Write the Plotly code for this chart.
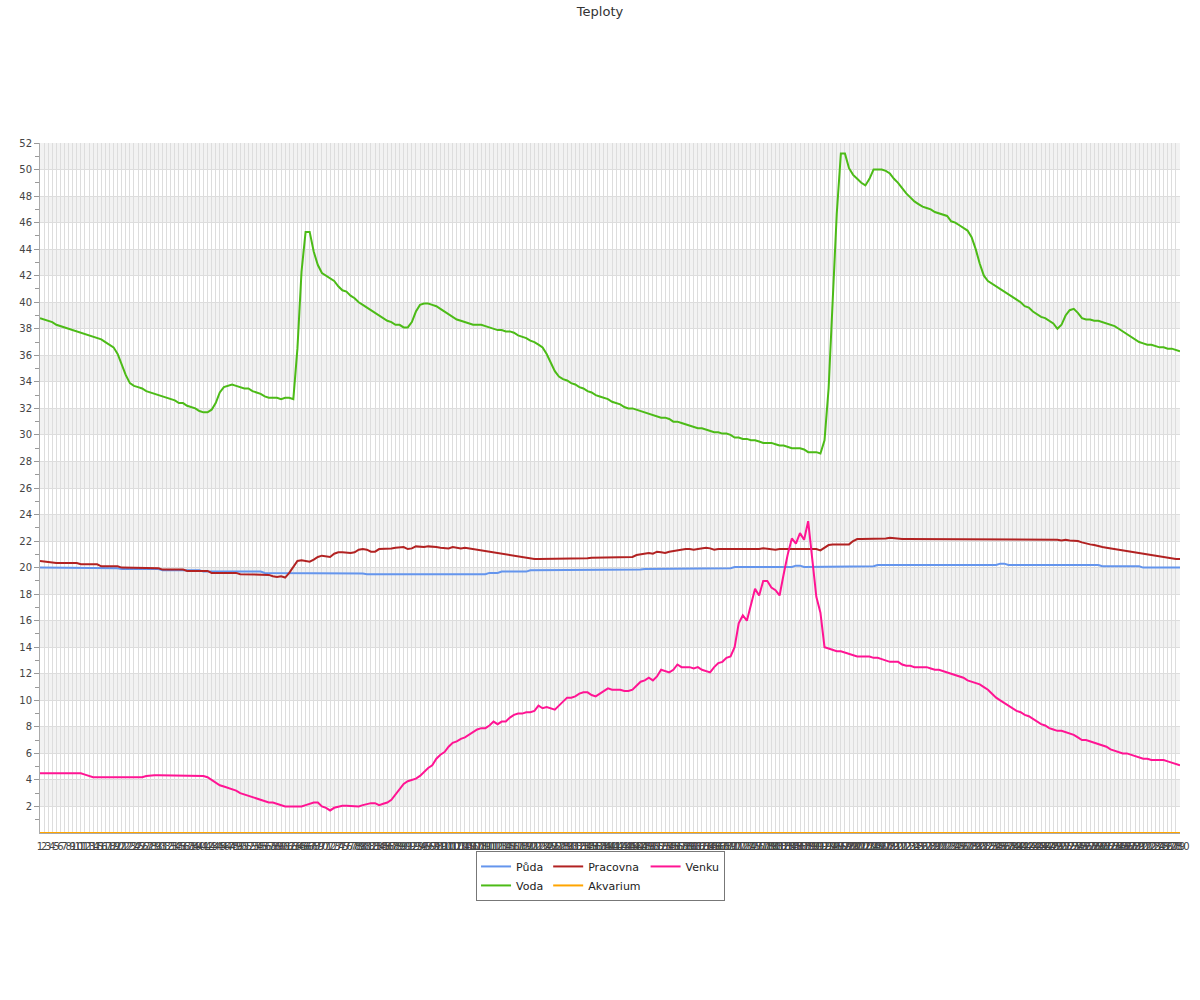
import plotly.graph_objects as go

categories = [str(i) for i in range(1, 281)]

puda = [
    20.0, 20.0, 20.0, 20.0, 20.0, 19.95, 19.95, 19.95, 19.95, 19.95,
    19.95, 19.95, 19.95, 19.95, 19.95, 19.95, 19.95, 19.95, 19.95, 19.95,
    19.9, 19.9, 19.9, 19.9, 19.9, 19.9, 19.9, 19.9, 19.9, 19.9,
    19.8, 19.8, 19.8, 19.8, 19.8, 19.8, 19.8, 19.8, 19.8, 19.8,
    19.7, 19.7, 19.7, 19.7, 19.7, 19.7, 19.7, 19.7, 19.7, 19.7,
    19.7, 19.7, 19.7, 19.7, 19.7, 19.6, 19.6, 19.6, 19.6, 19.6,
    19.6, 19.6, 19.6, 19.6, 19.6, 19.6, 19.6, 19.6, 19.6, 19.6,
    19.55, 19.55, 19.55, 19.55, 19.55, 19.55, 19.55, 19.55, 19.55, 19.55,
    19.5, 19.5, 19.5, 19.5, 19.5, 19.5, 19.5, 19.5, 19.5, 19.5,
    19.5, 19.5, 19.5, 19.5, 19.5, 19.5, 19.5, 19.5, 19.5, 19.5,
    19.5, 19.5, 19.5, 19.5, 19.5, 19.5, 19.5, 19.5, 19.5, 19.5,
    19.6, 19.6, 19.6, 19.7, 19.7, 19.7, 19.7, 19.7, 19.7, 19.7,
    19.8, 19.8, 19.8, 19.8, 19.8, 19.8, 19.8, 19.8, 19.8, 19.8,
    19.8, 19.8, 19.8, 19.8, 19.8, 19.85, 19.85, 19.85, 19.85, 19.85,
    19.85, 19.85, 19.85, 19.85, 19.85, 19.85, 19.85, 19.85, 19.9, 19.9,
    19.9, 19.9, 19.9, 19.9, 19.9, 19.9, 19.9, 19.9, 19.9, 19.9,
    19.95, 19.95, 19.95, 19.95, 19.95, 19.95, 19.95, 19.95, 19.95, 19.95,
    20.05, 20.05, 20.05, 20.05, 20.05, 20.05, 20.05, 20.05, 20.05, 20.05,
    20.05, 20.05, 20.05, 20.05, 20.05, 20.15, 20.15, 20.05, 20.05, 20.05,
    20.05, 20.05, 20.05, 20.05, 20.05, 20.1, 20.1, 20.1, 20.1, 20.1,
    20.1, 20.1, 20.1, 20.1, 20.1, 20.2, 20.2, 20.2, 20.2, 20.2,
    20.2, 20.2, 20.2, 20.2, 20.2, 20.15, 20.15, 20.15, 20.15, 20.15,
    20.15, 20.15, 20.15, 20.15, 20.15, 20.2, 20.2, 20.2, 20.2, 20.2,
    20.2, 20.2, 20.2, 20.2, 20.2, 20.3, 20.3, 20.2, 20.2, 20.2,
    20.2, 20.2, 20.2, 20.2, 20.2, 20.2, 20.2, 20.2, 20.2, 20.2,
    20.2, 20.2, 20.2, 20.2, 20.2, 20.2, 20.2, 20.2, 20.2, 20.2,
    20.1, 20.1, 20.1, 20.1, 20.1, 20.1, 20.1, 20.1, 20.1, 20.1,
    20.0, 20.0, 20.0, 20.0, 20.0, 20.0, 20.0, 20.0, 20.0, 20.0,
]

voda = [
    38.8, 38.7, 38.6, 38.5, 38.3, 38.2, 38.1, 38.0, 37.9, 37.8,
    37.7, 37.6, 37.5, 37.4, 37.3, 37.2, 37.0, 36.8, 36.6, 36.1,
    35.3, 34.5, 33.9, 33.7, 33.6, 33.5, 33.3, 33.2, 33.1, 33.0,
    32.9, 32.8, 32.7, 32.6, 32.4, 32.4, 32.2, 32.1, 32.0, 31.8,
    31.7, 31.7, 31.9, 32.4, 33.2, 33.6, 33.7, 33.8, 33.7, 33.6,
    33.5, 33.5, 33.3, 33.2, 33.1, 32.9, 32.8, 32.8, 32.8, 32.7,
    32.8, 32.8, 32.7, 36.5, 42.3, 45.3, 45.3, 43.8, 42.8, 42.2,
    42.0, 41.8, 41.6, 41.2, 40.9, 40.8, 40.5, 40.3, 40.0, 39.8,
    39.6, 39.4, 39.2, 39.0, 38.8, 38.6, 38.5, 38.3, 38.3, 38.1,
    38.1, 38.5, 39.3, 39.8, 39.9, 39.9, 39.8, 39.7, 39.5, 39.3,
    39.1, 38.9, 38.7, 38.6, 38.5, 38.4, 38.3, 38.3, 38.3, 38.2,
    38.1, 38.0, 37.9, 37.9, 37.8, 37.8, 37.7, 37.5, 37.4, 37.3,
    37.1, 37.0, 36.8, 36.6, 36.1, 35.4, 34.8, 34.4, 34.2, 34.1,
    33.9, 33.8, 33.6, 33.5, 33.3, 33.2, 33.0, 32.9, 32.8, 32.7,
    32.5, 32.4, 32.3, 32.1, 32.0, 32.0, 31.9, 31.8, 31.7, 31.6,
    31.5, 31.4, 31.3, 31.3, 31.2, 31.0, 31.0, 30.9, 30.8, 30.7,
    30.6, 30.5, 30.5, 30.4, 30.3, 30.2, 30.2, 30.1, 30.1, 30.0,
    29.8, 29.8, 29.7, 29.7, 29.6, 29.6, 29.5, 29.4, 29.4, 29.4,
    29.3, 29.2, 29.2, 29.1, 29.0, 29.0, 29.0, 28.9, 28.7, 28.7,
    28.7, 28.6, 29.6, 33.5, 40.0, 46.7, 51.2, 51.2, 50.1, 49.6,
    49.3, 49.0, 48.8, 49.3, 50.0, 50.0, 50.0, 49.9, 49.7, 49.3,
    49.0, 48.6, 48.2, 47.9, 47.6, 47.4, 47.2, 47.1, 47.0, 46.8,
    46.7, 46.6, 46.5, 46.1, 46.0, 45.8, 45.6, 45.4, 44.9, 44.0,
    42.9, 42.0, 41.6, 41.4, 41.2, 41.0, 40.8, 40.6, 40.4, 40.2,
    40.0, 39.7, 39.6, 39.3, 39.1, 38.9, 38.8, 38.6, 38.4, 38.0,
    38.3, 39.0, 39.4, 39.5, 39.2, 38.8, 38.7, 38.7, 38.6, 38.6,
    38.5, 38.4, 38.3, 38.2, 38.0, 37.8, 37.6, 37.4, 37.2, 37.0,
    36.9, 36.8, 36.8, 36.7, 36.6, 36.6, 36.5, 36.5, 36.4, 36.3,
]

pracovna = [
    20.5, 20.45, 20.45, 20.35, 20.35, 20.35, 20.35, 20.35, 20.35, 20.35,
    20.25, 20.25, 20.25, 20.25, 20.25, 20.1, 20.1, 20.1, 20.1, 20.1,
    20.0, 20.0, 20.0, 20.0, 20.0, 19.95, 19.95, 19.95, 19.95, 19.95,
    19.85, 19.85, 19.85, 19.85, 19.85, 19.85, 19.75, 19.75, 19.75, 19.75,
    19.75, 19.75, 19.6, 19.6, 19.6, 19.6, 19.6, 19.6, 19.6, 19.5,
    19.5, 19.5, 19.5, 19.45, 19.45, 19.45, 19.45, 19.35, 19.3, 19.35,
    19.25, 19.6, 20.1, 20.5, 20.55, 20.5, 20.45, 20.6, 20.8, 20.9,
    20.85, 20.8, 21.05, 21.15, 21.15, 21.1, 21.1, 21.15, 21.35, 21.4,
    21.35, 21.2, 21.2, 21.4, 21.4, 21.4, 21.45, 21.5, 21.55, 21.55,
    21.4, 21.45, 21.6, 21.55, 21.55, 21.6, 21.6, 21.55, 21.5, 21.5,
    21.45, 21.55, 21.5, 21.45, 21.5, 21.45, 21.45, 21.4, 21.35, 21.3,
    21.2, 21.15, 21.1, 21.05, 21.0, 20.95, 20.9, 20.85, 20.8, 20.75,
    20.7, 20.65, 20.65, 20.65, 20.65, 20.65, 20.65, 20.65, 20.65, 20.65,
    20.65, 20.65, 20.65, 20.65, 20.7, 20.75, 20.75, 20.8, 20.8, 20.8,
    20.75, 20.75, 20.75, 20.8, 20.75, 20.8, 20.95, 21.0, 21.05, 21.1,
    21.05, 21.2, 21.15, 21.1, 21.2, 21.25, 21.35, 21.4, 21.4, 21.4,
    21.35, 21.4, 21.45, 21.5, 21.45, 21.35, 21.4, 21.4, 21.35, 21.4,
    21.4, 21.4, 21.4, 21.4, 21.4, 21.4, 21.4, 21.45, 21.4, 21.4,
    21.35, 21.4, 21.4, 21.35, 21.4, 21.4, 21.35, 21.4, 21.4, 21.4,
    21.4, 21.3, 21.5, 21.7, 21.75, 21.75, 21.75, 21.75, 21.75, 22.0,
    22.15, 22.15, 22.15, 22.15, 22.15, 22.2, 22.15, 22.2, 22.25, 22.2,
    22.15, 22.15, 22.15, 22.15, 22.15, 22.15, 22.15, 22.15, 22.15, 22.15,
    22.15, 22.15, 22.15, 22.15, 22.15, 22.15, 22.15, 22.15, 22.15, 22.15,
    22.15, 22.15, 22.15, 22.15, 22.15, 22.15, 22.1, 22.1, 22.1, 22.1,
    22.1, 22.1, 22.1, 22.1, 22.1, 22.1, 22.1, 22.15, 22.1, 22.1,
    22.05, 22.1, 22.05, 22.05, 22.0, 21.9, 21.8, 21.75, 21.7, 21.6,
    21.55, 21.5, 21.45, 21.4, 21.35, 21.3, 21.25, 21.2, 21.1, 21.05,
    21.0, 20.95, 20.9, 20.85, 20.8, 20.75, 20.7, 20.7, 20.65, 20.65,
]

akvarium = [
    0, 0, 0, 0, 0, 0, 0, 0, 0, 0, 0, 0, 0, 0, 0, 0, 0, 0, 0, 0,
    0, 0, 0, 0, 0, 0, 0, 0, 0, 0, 0, 0, 0, 0, 0, 0, 0, 0, 0, 0,
    0, 0, 0, 0, 0, 0, 0, 0, 0, 0, 0, 0, 0, 0, 0, 0, 0, 0, 0, 0,
    0, 0, 0, 0, 0, 0, 0, 0, 0, 0, 0, 0, 0, 0, 0, 0, 0, 0, 0, 0,
    0, 0, 0, 0, 0, 0, 0, 0, 0, 0, 0, 0, 0, 0, 0, 0, 0, 0, 0, 0,
    0, 0, 0, 0, 0, 0, 0, 0, 0, 0, 0, 0, 0, 0, 0, 0, 0, 0, 0, 0,
    0, 0, 0, 0, 0, 0, 0, 0, 0, 0, 0, 0, 0, 0, 0, 0, 0, 0, 0, 0,
    0, 0, 0, 0, 0, 0, 0, 0, 0, 0, 0, 0, 0, 0, 0, 0, 0, 0, 0, 0,
    0, 0, 0, 0, 0, 0, 0, 0, 0, 0, 0, 0, 0, 0, 0, 0, 0, 0, 0, 0,
    0, 0, 0, 0, 0, 0, 0, 0, 0, 0, 0, 0, 0, 0, 0, 0, 0, 0, 0, 0,
    0, 0, 0, 0, 0, 0, 0, 0, 0, 0, 0, 0, 0, 0, 0, 0, 0, 0, 0, 0,
    0, 0, 0, 0, 0, 0, 0, 0, 0, 0, 0, 0, 0, 0, 0, 0, 0, 0, 0, 0,
    0, 0, 0, 0, 0, 0, 0, 0, 0, 0, 0, 0, 0, 0, 0, 0, 0, 0, 0, 0,
    0, 0, 0, 0, 0, 0, 0, 0, 0, 0, 0, 0, 0, 0, 0, 0, 0, 0, 0, 0,
]

venku = [
    4.5, 4.5, 4.5, 4.5, 4.5, 4.5, 4.5, 4.5, 4.5, 4.5,
    4.5, 4.4, 4.3, 4.2, 4.2, 4.2, 4.25, 4.2, 4.2, 4.2,
    4.2, 4.2, 4.25, 4.2, 4.2, 4.2, 4.3, 4.35, 4.35, 4.35,
    4.35, 4.35, 4.35, 4.35, 4.35, 4.35, 4.35, 4.35, 4.35, 4.35,
    4.3, 4.2, 4.0, 3.8, 3.6, 3.5, 3.4, 3.3, 3.2, 3.0,
    2.9, 2.8, 2.7, 2.6, 2.5, 2.4, 2.3, 2.3, 2.2, 2.1,
    2.0, 2.0, 2.0, 2.0, 2.0, 2.1, 2.2, 2.3, 2.3, 2.0,
    1.9, 1.7, 1.9, 2.0, 2.05, 2.05, 2.05, 2.05, 2.0, 2.1,
    2.2, 2.25, 2.25, 2.1, 2.2, 2.3, 2.5, 2.9, 3.3, 3.7,
    3.9, 4.0, 4.1, 4.3, 4.6, 4.9, 5.1, 5.6, 5.9, 6.1,
    6.5, 6.8, 6.9, 7.1, 7.2, 7.4, 7.6, 7.8, 7.9, 7.9,
    8.1, 8.4, 8.2, 8.4, 8.4, 8.7, 8.9, 9.0, 9.0, 9.1,
    9.1, 9.2, 9.6, 9.4, 9.5, 9.4, 9.3, 9.6, 9.9, 10.2,
    10.2, 10.3, 10.5, 10.6, 10.6, 10.4, 10.3, 10.5, 10.7, 10.9,
    10.8, 10.8, 10.8, 10.7, 10.7, 10.8, 11.1, 11.4, 11.5, 11.7,
    11.5, 11.8, 12.3, 12.2, 12.1, 12.3, 12.7, 12.5, 12.5, 12.5,
    12.4, 12.5, 12.3, 12.2, 12.1, 12.5, 12.8, 12.9, 13.2, 13.3,
    14.0, 15.8, 16.4, 16.0, 17.2, 18.4, 17.9, 19.0, 19.0, 18.5,
    18.3, 17.9, 19.5, 21.0, 22.2, 21.8, 22.6, 22.1, 23.5, 20.6,
    17.8, 16.6, 14.0, 13.9, 13.8, 13.7, 13.7, 13.6, 13.5, 13.4,
    13.3, 13.3, 13.3, 13.3, 13.2, 13.2, 13.1, 13.0, 12.9, 12.9,
    12.9, 12.7, 12.6, 12.6, 12.5, 12.5, 12.5, 12.5, 12.4, 12.3,
    12.3, 12.2, 12.1, 12.0, 11.9, 11.8, 11.7, 11.5, 11.4, 11.3,
    11.2, 11.0, 10.8, 10.5, 10.2, 10.0, 9.8, 9.6, 9.4, 9.2,
    9.1, 8.9, 8.8, 8.6, 8.4, 8.2, 8.1, 7.9, 7.8, 7.7,
    7.7, 7.6, 7.5, 7.4, 7.2, 7.0, 7.0, 6.9, 6.8, 6.7,
    6.6, 6.5, 6.3, 6.2, 6.1, 6.0, 6.0, 5.9, 5.8, 5.7,
    5.6, 5.6, 5.5, 5.5, 5.5, 5.5, 5.4, 5.3, 5.2, 5.1,
]

y_tick_values = [2, 4, 6, 8, 10, 12, 14, 16, 18, 20, 22, 24, 26, 28, 30,
                 32, 34, 36, 38, 40, 42, 44, 46, 48, 50, 52]
y_minor_values = [1, 3, 5, 7, 9, 11, 13, 15, 17, 19, 21, 23, 25, 27, 29,
                  31, 33, 35, 37, 39, 41, 43, 45, 47, 49, 51]
band_starts = [2, 6, 10, 14, 18, 22, 26, 30, 34, 38, 42, 46, 50]

series = [
    ("Půda", puda, "#6495ed", "g1"),
    ("Voda", voda, "#4cbb17", "g1"),
    ("Pracovna", pracovna, "#b22222", "g2"),
    ("Akvarium", akvarium, "#ffa500", "g2"),
    ("Venku", venku, "#ff1493", "g3"),
]

FONT = "DejaVu Sans"

fig = go.Figure()
for name, vals, color, grp in series:
    assert len(vals) == len(categories), name
    fig.add_trace(go.Scatter(
        x=categories, y=vals, name=name, mode="lines",
        line=dict(color=color, width=2), legendgroup=grp,
    ))

shapes = []
for b in band_starts:
    shapes.append(dict(type="rect", xref="paper", yref="y", x0=0, x1=1,
                       y0=b, y1=b + 2, fillcolor="#f2f2f2",
                       line=dict(width=0), layer="below"))

fig.update_layout(
    width=1200, height=1000,
    margin=dict(l=40, r=20, t=143, b=167, autoexpand=False),
    paper_bgcolor="white", plot_bgcolor="white",
    font=dict(family=FONT, size=10, color="#444"),
    title=dict(text="Teploty", x=0.5, xanchor="center", y=0.989,
               yanchor="middle", yref="container",
               font=dict(family=FONT, size=13, color="#333")),
    shapes=shapes,
    showlegend=True,
    legend=dict(orientation="h", traceorder="grouped", tracegroupgap=0,
                x=0.4917, xanchor="center", y=-0.026, yanchor="top",
                bordercolor="#777", borderwidth=1, bgcolor="white",
                font=dict(family=FONT, size=11, color="#222"),
                itemwidth=30),
    xaxis=dict(type="category", range=[0, len(categories) - 1],
               tickmode="linear", tick0=0, dtick=1, tickangle=0,
               showgrid=True, gridcolor="#dddddd", gridwidth=1,
               ticks="", showline=True, linecolor="#aaaaaa",
               ticklabelstandoff=4,
               tickfont=dict(family=FONT, size=10, color="#444"),
               zeroline=False, automargin=False),
    yaxis=dict(range=[0, 52], tickmode="array", tickvals=y_tick_values,
               showgrid=True, gridcolor="#dddddd", gridwidth=1,
               ticks="outside", ticklen=5, tickcolor="#999999",
               showline=True, linecolor="#aaaaaa", zeroline=False,
               tickfont=dict(family=FONT, size=10, color="#444"),
               minor=dict(tickvals=y_minor_values, ticks="outside",
                          ticklen=4, tickcolor="#999999", showgrid=False),
               automargin=False),
)

fig.write_html("out.html", config={"displayModeBar": False},
               post_script="document.body.style.margin='0';")
